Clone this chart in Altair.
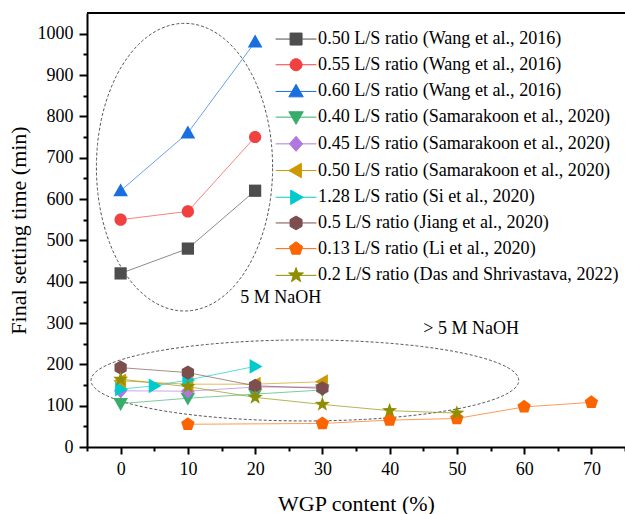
import altair as alt
import pandas as pd
import numpy as np

# ---------------- data ----------------
series_names = [
    "0.50 L/S ratio (Wang et al., 2016)",
    "0.55 L/S ratio (Wang et al., 2016)",
    "0.60 L/S ratio (Wang et al., 2016)",
    "0.40 L/S ratio (Samarakoon et al., 2020)",
    "0.45 L/S ratio (Samarakoon et al., 2020)",
    "0.50 L/S ratio (Samarakoon et al., 2020)",
    "1.28 L/S ratio (Si et al., 2020)",
    "0.5 L/S ratio (Jiang et al., 2020)",
    "0.13 L/S ratio (Li et al., 2020)",
    "0.2 L/S ratio (Das and Shrivastava, 2022)",
]
series_keys = ["s%d" % i for i in range(len(series_names))]
colors = ["#4d4d4d", "#f14040", "#1a6fdf", "#37ad6b", "#b177de",
          "#cc9900", "#00cbcc", "#7d4e4e", "#fb6501", "#8e8e00"]

x_wang = [0, 10, 20]
wang_050 = [420, 480, 620]
wang_055 = [550, 570, 750]
wang_060 = [620, 760, 980]
x_sam = [0, 10, 20, 30]
sam_040 = [105, 118, 128, 138]
sam_045 = [136, 135, 145, 145]
sam_050 = [160, 152, 152, 158]
x_si = [0, 5, 10, 20]
si_128 = [140, 148, 162, 195]
x_jiang = [0, 10, 20, 30]
jiang_05 = [192, 180, 148, 142]
x_li = [10, 30, 40, 50, 60, 70]
li_013 = [55, 57, 65, 69, 97, 108]
x_das = [0, 10, 20, 30, 40, 50]
das_02 = [164, 146, 120, 103, 88, 82]

series_x = [x_wang, x_wang, x_wang, x_sam, x_sam, x_sam, x_si, x_jiang, x_li, x_das]
series_y = [wang_050, wang_055, wang_060, sam_040, sam_045, sam_050, si_128, jiang_05, li_013, das_02]

# annotations
ann_text = ["5 M NaOH", "> 5 M NaOH"]
ann_x = [17.8, 45.0]
ann_y = [360, 285]

# dashed ellipses (center x, center y, radius x, radius y)
ell_cx = [9.5, 27.4]
ell_cy = [677, 161]
ell_rx = [13.1, 31.8]
ell_ry = [348, 98]

# ---------------- shapes ----------------
marker_paths = [
    "M-1,-1H1V1H-1Z",
    "M-1,0A1,1,0,1,0,1,0A1,1,0,1,0,-1,0Z",
    "M0,-1.2L1.2,0.9H-1.2Z",
    "M0,1.2L1.2,-0.9H-1.2Z",
    "M0,-1.25L1.1,0L0,1.25L-1.1,0Z",
    "M-1.2,0L0.9,-1.2V1.2Z",
    "M1.2,0L-0.9,-1.2V1.2Z",
    "M0,-1.15L1,-0.575L1,0.575L0,1.15L-1,0.575L-1,-0.575Z",
    "M0,-1.15L1.094,-0.355L0.676,0.93L-0.676,0.93L-1.094,-0.355Z",
    "M0,-1.3L0.306,-0.421L1.236,-0.402L0.495,0.161L0.764,1.052L0,0.52L-0.764,1.052L-0.495,0.161L-1.236,-0.402L-0.306,-0.421Z",
]
legend_paths = ["M-3.4,0H3.4" + p for p in marker_paths]

rows = []
for name, key, xs, ys in zip(series_names, series_keys, series_x, series_y):
    for xv, yv in zip(xs, ys):
        rows.append({"series": name, "key": key, "x": xv, "y": yv})
df = pd.DataFrame(rows)

t = np.linspace(0, 2 * np.pi, 241)
erows = []
for i, (cx, cy, rx, ry) in enumerate(zip(ell_cx, ell_cy, ell_rx, ell_ry)):
    for k, tt in enumerate(t):
        erows.append({"id": i, "order": k, "x": cx + rx * np.cos(tt), "y": cy + ry * np.sin(tt)})
df_ell = pd.DataFrame(erows)
df_ann = pd.DataFrame({"x": ann_x, "y": ann_y, "text": ann_text})

# ---------------- encodings ----------------
FONT = "Liberation Serif"
W, H = 538, 434

x_axis = alt.Axis(
    values=list(range(-5, 80, 5)), format="d",
    labelExpr="(datum.value % 10 === 0 && datum.value >= 0 && datum.value <= 70) ? datum.label : ''",
    tickSize={"condition": {"test": "datum.value % 10 === 0", "value": 7}, "value": 4},
    labelOverlap=False, labelFlush=False, grid=False, labelPadding=6,
    titlePadding=15, labelFont=FONT, labelFontSize=18, titleFont=FONT,
)
y_axis = alt.Axis(
    values=list(range(0, 1001, 50)), format="d",
    labelExpr="(datum.value % 100 === 0) ? datum.label : ''",
    tickSize={"condition": {"test": "datum.value % 100 === 0", "value": 8}, "value": 4},
    labelOverlap=False, labelFlush=False, grid=False, labelPadding=6,
    titlePadding=7, labelFont=FONT, labelFontSize=18, titleFont=FONT,
)
X = alt.X("x:Q", scale=alt.Scale(domain=[-5, 75], nice=False, zero=False),
          axis=x_axis, title="WGP content (%)")
Y = alt.Y("y:Q", scale=alt.Scale(domain=[0, 1050], nice=False, zero=False),
          axis=y_axis, title="Final setting time (min)")
key_color = alt.Color("key:N", scale=alt.Scale(domain=series_keys, range=colors), legend=None)

ellipses = alt.Chart(df_ell).mark_line(
    strokeDash=[3, 2], color="#555555", strokeWidth=1
).encode(x=X, y=Y, order="order:Q", detail="id:N")

lines = alt.Chart(df).mark_line(strokeWidth=1, opacity=0.65).encode(
    x=X, y=Y, color=key_color, detail="key:N"
)

point_layers = []
for key, path in zip(series_keys, marker_paths):
    point_layers.append(
        alt.Chart(df).transform_filter(alt.datum.key == key).mark_point(
            shape=path, filled=True, size=150, opacity=1, strokeWidth=0
        ).encode(x=X, y=Y, color=key_color)
    )

leg = alt.Legend(
    title=None, orient="none", legendX=200, legendY=17,
    labelFont=FONT, labelFontSize=18.1, labelColor="black", labelLimit=600,
    labelOffset=13, rowPadding=6.7, padding=0, symbolSize=144,
    symbolStrokeWidth=1, symbolOpacity=1,
)
# legend-only layer: its rows are filtered out, the legend comes from the explicit scale domains
legend_layer = alt.Chart(df).transform_filter("datum.y < -1000").mark_point(
    filled=True, size=144, opacity=1, clip=True
).encode(
    x=X, y=Y,
    fill=alt.Fill("series:N", scale=alt.Scale(domain=series_names, range=colors), legend=leg),
    stroke=alt.Stroke("series:N", scale=alt.Scale(domain=series_names, range=colors), legend=leg),
    shape=alt.Shape("series:N", scale=alt.Scale(domain=series_names, range=legend_paths), legend=leg),
)

texts = alt.Chart(df_ann).mark_text(
    align="left", baseline="middle", font=FONT, fontSize=18, color="black"
).encode(x=X, y=Y, text="text:N")

border = alt.Chart(pd.DataFrame({"a": [0]})).mark_rule(color="black", strokeWidth=2).encode(
    x=alt.value(0), x2=alt.value(W), y=alt.value(0)
)

chart = alt.layer(
    ellipses, lines, *point_layers, legend_layer, texts, border
).properties(
    width=W, height=H,
    autosize=alt.AutoSizeParams(type="none"),
    padding={"left": 87, "top": 13, "right": 0, "bottom": 67},
    background="white",
).configure_view(
    stroke=None
).configure_axis(
    domainColor="black", domainWidth=2, tickColor="black", tickWidth=2,
    labelFont=FONT, labelFontSize=18, labelColor="black",
    titleFont=FONT, titleFontSize=22, titleFontWeight="normal", titleColor="black",
).configure_legend(
    labelFont=FONT, labelFontSize=18.1
)

chart.save("out.html", embed_options={"renderer": "svg", "actions": False})
